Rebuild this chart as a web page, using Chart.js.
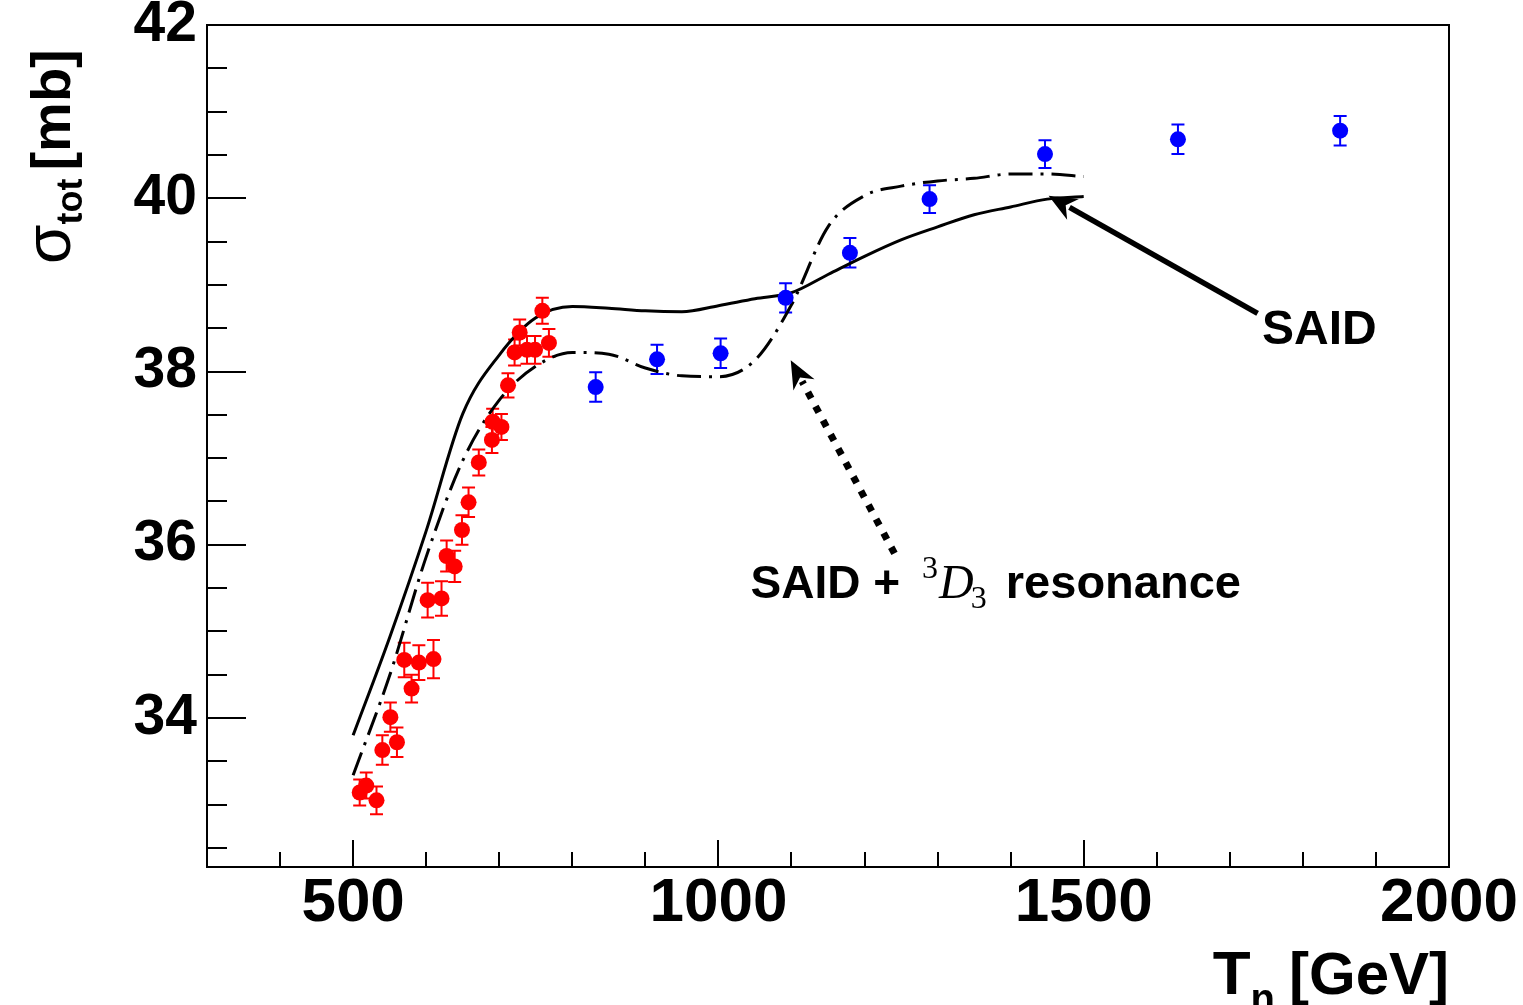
<!DOCTYPE html>
<html>
<head>
<meta charset="utf-8">
<title>Total cross section vs T_n</title>
<script src="https://cdn.jsdelivr.net/npm/chart.js@4.4.1/dist/chart.umd.min.js"></script>
<style>
  html, body { margin: 0; padding: 0; background: #fff; }
  canvas { display: block; }
</style>
</head>
<body>
<canvas id="xsec" width="1523" height="1005"></canvas>
<script>
// sigma_tot [mb] against T_n

// measurements, low-energy set (red)
const redT   = [509, 518, 532, 540, 551, 560, 570, 580, 590, 602, 610, 621, 628, 639,
                649, 658, 672, 690, 691, 703, 712, 721, 728, 738, 749, 759, 768];
const redS   = [33.14, 33.22, 33.05, 33.63, 34.01, 33.72, 34.67, 34.34, 34.64, 35.36, 34.68, 35.38, 35.87, 35.75,
                36.17, 36.49, 36.95, 37.21, 37.42, 37.36, 37.84, 38.22, 38.45, 38.25, 38.25, 38.70, 38.33];
const redErr = [0.15, 0.15, 0.16, 0.17, 0.17, 0.17, 0.20, 0.16, 0.20, 0.20, 0.22, 0.20, 0.18, 0.18,
                0.17, 0.17, 0.15, 0.15, 0.15, 0.15, 0.14, 0.15, 0.15, 0.16, 0.16, 0.15, 0.16];

// measurements, high-energy set (blue)
const blueT   = [832, 916, 1003, 1092, 1180, 1289, 1447, 1629, 1851];
const blueS   = [37.82, 38.14, 38.21, 38.85, 39.37, 39.99, 40.51, 40.68, 40.78];
const blueErr = [0.17, 0.17, 0.17, 0.17, 0.17, 0.16, 0.16, 0.17, 0.17];

// SAID solution
const saidT = [500, 550, 600, 650, 700, 750, 800, 850, 900, 950, 1000,
               1050, 1100, 1150, 1200, 1250, 1300, 1350, 1400, 1450, 1500];
const saidS = [33.80, 34.93, 36.16, 37.51, 38.19, 38.62, 38.75, 38.73, 38.70, 38.69, 38.76,
               38.84, 38.91, 39.12, 39.33, 39.52, 39.67, 39.81, 39.90, 39.99, 40.02];

// SAID + 3D3 resonance
const resT = [500, 550, 600, 650, 700, 750, 800, 850, 900, 950, 1000,
              1050, 1100, 1150, 1200, 1250, 1300, 1350, 1400, 1450, 1500];
const resS = [33.34, 34.49, 35.86, 36.97, 37.67, 38.06, 38.22, 38.20, 38.04, 37.95, 37.94,
              38.13, 38.77, 39.67, 40.03, 40.14, 40.20, 40.23, 40.28, 40.28, 40.25];

// axes
const xLabels = [500, 1000, 1500, 2000];
const yLabels = [34, 36, 38, 40, 42];
const xMinorStep = 100;
const yMinorStep = 0.5;

const pts = (xs, ys) => xs.map((v, i) => ({ x: v, y: ys[i] }));
const FONT = '"Liberation Sans", Arial, Helvetica, sans-serif';
const SERIF = '"Liberation Serif", "DejaVu Serif", serif';

function buildTicks(step) {
  return scale => {
    const t = [];
    for (let v = Math.ceil(scale.min / step - 1e-9) * step; v <= scale.max + 1e-9; v += step) {
      t.push({ value: Math.round(v * 1000) / 1000 });
    }
    scale.ticks = t;
  };
}

// vertical error bars with small caps
const errorBars = {
  id: 'errorBars',
  beforeDatasetsDraw(chart) {
    const { ctx, scales: { x, y } } = chart;
    chart.data.datasets.forEach(ds => {
      if (!ds.yErr) return;
      ctx.save();
      ctx.strokeStyle = ds.backgroundColor;
      ctx.lineWidth = 2;
      ctx.beginPath();
      ds.data.forEach((p, k) => {
        const px = x.getPixelForValue(p.x);
        const lo = y.getPixelForValue(p.y - ds.yErr[k]);
        const hi = y.getPixelForValue(p.y + ds.yErr[k]);
        ctx.moveTo(px, lo); ctx.lineTo(px, hi);
        ctx.moveTo(px - 6.5, lo); ctx.lineTo(px + 6.5, lo);
        ctx.moveTo(px - 6.5, hi); ctx.lineTo(px + 6.5, hi);
      });
      ctx.stroke();
      ctx.restore();
    });
  }
};

// box around the plot with inward ticks
const frame = {
  id: 'frame',
  beforeDraw(chart) {
    const { ctx, width, height } = chart;
    ctx.save();
    ctx.fillStyle = '#fff';
    ctx.fillRect(0, 0, width, height);
    ctx.restore();
  },
  afterDraw(chart) {
    const { ctx, chartArea: a, scales: { x, y } } = chart;
    ctx.save();
    ctx.strokeStyle = '#000';
    ctx.lineWidth = 2;
    ctx.beginPath();
    x.ticks.forEach(t => {
      const px = Math.round(x.getPixelForValue(t.value));
      const len = xLabels.includes(t.value) ? 27 : 15;
      ctx.moveTo(px, a.bottom); ctx.lineTo(px, a.bottom - len);
    });
    y.ticks.forEach(t => {
      const py = Math.round(y.getPixelForValue(t.value));
      const len = yLabels.includes(t.value) ? 39 : 20;
      ctx.moveTo(a.left, py); ctx.lineTo(a.left + len, py);
    });
    ctx.stroke();
    ctx.strokeRect(a.left, a.top, a.right - a.left, a.bottom - a.top);
    ctx.restore();
  }
};

function arrow(ctx, x0, y0, x1, y1, width, dash, headLen, headHalf) {
  const ang = Math.atan2(y1 - y0, x1 - x0);
  const bx = x1 - headLen * Math.cos(ang), by = y1 - headLen * Math.sin(ang);
  ctx.save();
  ctx.strokeStyle = '#000';
  ctx.fillStyle = '#000';
  ctx.lineWidth = width;
  ctx.setLineDash(dash);
  ctx.beginPath();
  ctx.moveTo(x0, y0);
  ctx.lineTo(bx + 4 * Math.cos(ang), by + 4 * Math.sin(ang));
  ctx.stroke();
  ctx.setLineDash([]);
  ctx.beginPath();
  ctx.moveTo(x1, y1);
  ctx.lineTo(bx + headHalf * Math.sin(ang), by - headHalf * Math.cos(ang));
  ctx.lineTo(bx + 0.3 * headLen * Math.cos(ang), by + 0.3 * headLen * Math.sin(ang));
  ctx.lineTo(bx - headHalf * Math.sin(ang), by + headHalf * Math.cos(ang));
  ctx.closePath();
  ctx.fill();
  ctx.restore();
}

// curve labels, arrows and axis titles
const notes = {
  id: 'notes',
  afterDraw(chart) {
    const { ctx, scales: { x, y } } = chart;
    const X = v => x.getPixelForValue(v), Y = v => y.getPixelForValue(v);

    arrow(ctx, X(1738), Y(38.67), X(1452), Y(40.03), 5.5, [], 28, 12);
    arrow(ctx, X(1241), Y(35.90), X(1099), Y(38.13), 7, [7, 9], 28, 12);

    ctx.save();
    ctx.fillStyle = '#000';
    ctx.textBaseline = 'alphabetic';
    ctx.textAlign = 'left';

    ctx.font = 'bold 48px ' + FONT;
    ctx.fillText('SAID', X(1744), Y(38.32));

    // SAID + 3D3 resonance
    let cx = X(1044);
    const base = Y(35.39);
    ctx.font = 'bold 46px ' + FONT;
    ctx.fillText('SAID +', cx, base);
    cx += ctx.measureText('SAID +').width + 22;
    ctx.font = '32px ' + SERIF;
    ctx.fillText('3', cx, base - 20);
    cx += ctx.measureText('3').width + 1;
    ctx.font = 'italic 48px ' + SERIF;
    ctx.fillText('D', cx, base);
    cx += ctx.measureText('D').width - 3;
    ctx.font = '32px ' + SERIF;
    ctx.fillText('3', cx, base + 10);
    cx += ctx.measureText('3').width + 6;
    ctx.font = 'bold 47px ' + FONT;
    ctx.fillText(' resonance', cx, base);

    // x title: T_n [GeV]
    ctx.textAlign = 'right';
    ctx.font = 'bold 60px ' + FONT;
    let rx = 1449;
    ctx.fillText('[GeV]', rx, 994);
    rx -= ctx.measureText('[GeV]').width + 14;
    ctx.font = 'bold 40px ' + FONT;
    ctx.fillText('n', rx, 1012);
    rx -= ctx.measureText('n').width;
    ctx.font = 'bold 62px ' + FONT;
    ctx.fillText('T', rx, 994);

    // y title: sigma_tot [mb]
    ctx.translate(70, 264);
    ctx.rotate(-Math.PI / 2);
    ctx.textAlign = 'left';
    let ty = 0;
    ctx.font = '64px ' + FONT;
    ctx.fillText('\u03c3', ty, 0);
    ty += ctx.measureText('\u03c3').width;
    ctx.font = 'bold 36px ' + FONT;
    ctx.fillText('tot', ty, 12);
    ty += ctx.measureText('tot').width + 8;
    ctx.font = 'bold 56px ' + FONT;
    ctx.fillText('[mb]', ty, 0);
    ctx.restore();
  }
};

new Chart(document.getElementById('xsec'), {
  type: 'scatter',
  data: {
    datasets: [
      {
        label: 'data (red)',
        data: pts(redT, redS),
        yErr: redErr,
        backgroundColor: '#ff0000',
        borderColor: '#ff0000',
        pointRadius: 8,
        pointBorderWidth: 0,
        showLine: false
      },
      {
        label: 'data (blue)',
        data: pts(blueT, blueS),
        yErr: blueErr,
        backgroundColor: '#0000ff',
        borderColor: '#0000ff',
        pointRadius: 8,
        pointBorderWidth: 0,
        showLine: false
      },
      {
        label: 'SAID',
        type: 'line',
        data: pts(saidT, saidS),
        borderColor: '#000',
        borderWidth: 3,
        pointRadius: 0,
        cubicInterpolationMode: 'monotone',
        fill: false
      },
      {
        label: 'SAID + 3D3 resonance',
        type: 'line',
        data: pts(resT, resS),
        borderColor: '#000',
        borderWidth: 3,
        borderDash: [24, 8, 3, 8],
        pointRadius: 0,
        cubicInterpolationMode: 'monotone',
        fill: false
      }
    ]
  },
  options: {
    responsive: false,
    animation: false,
    devicePixelRatio: 1,
    layout: { padding: { top: 25, right: 74, left: 0, bottom: 0 } },
    plugins: {
      legend: { display: false },
      tooltip: { enabled: false }
    },
    scales: {
      x: {
        type: 'linear',
        min: 300,
        max: 2000,
        grid: { display: false, drawTicks: false },
        border: { display: false },
        afterBuildTicks: buildTicks(xMinorStep),
        afterFit: s => { s.height = 138; s.paddingLeft = 0; s.paddingRight = 0; },
        ticks: {
          autoSkip: false,
          maxRotation: 0,
          padding: 6,
          color: '#000',
          font: { family: FONT, size: 62, weight: 'bold', lineHeight: 1 },
          callback: v => xLabels.includes(v) ? String(v) : ''
        }
      },
      y: {
        type: 'linear',
        min: 32.28,
        max: 42,
        grid: { display: false, drawTicks: false },
        border: { display: false },
        afterBuildTicks: buildTicks(yMinorStep),
        afterFit: s => { s.width = 207; s.paddingTop = 0; s.paddingBottom = 0; },
        ticks: {
          autoSkip: false,
          padding: 10,
          color: '#000',
          font: { family: FONT, size: 57, weight: 'bold', lineHeight: 1 },
          callback: v => yLabels.includes(v) ? String(v) : ''
        }
      }
    }
  },
  plugins: [frame, errorBars, notes]
});
</script>
</body>
</html>
